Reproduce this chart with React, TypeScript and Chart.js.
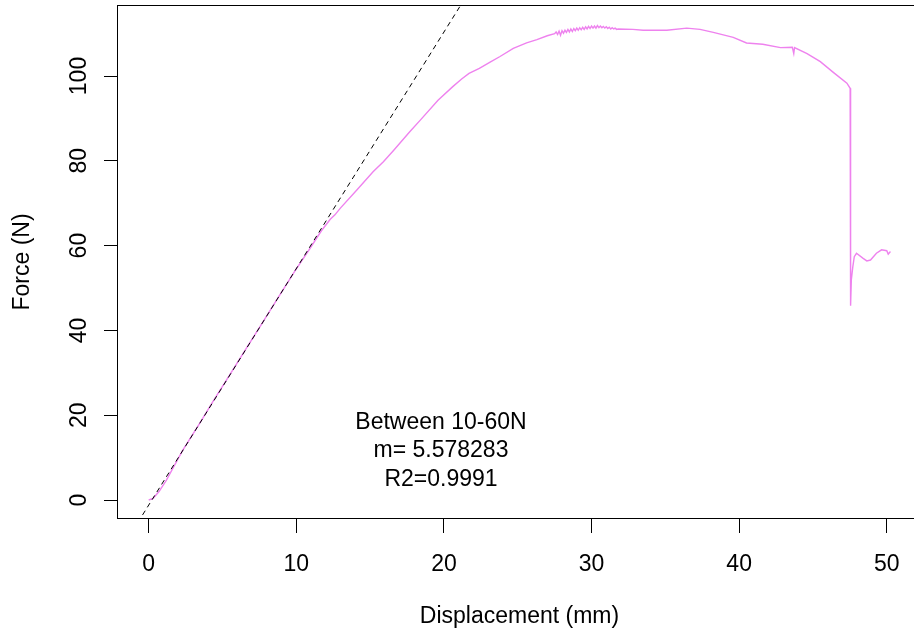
import React, { useEffect, useRef } from 'react';
import { Chart, registerables } from 'chart.js';

Chart.register(...registerables);

// ---- data ----
const displacement = [
  0.0, 0.3, 0.7, 1.2, 2.3, 3.4, 4.4, 5.5, 6.6, 7.7, 8.8, 9.9, 10.9, 11.7, 12.3, 12.6, 13.0,
  14.1, 15.2, 15.9, 16.6, 17.7, 18.4, 19.6, 20.6, 21.2, 21.7, 22.4, 23.1, 23.8, 24.7, 25.6, 26.3, 27.0,
  27.5, 27.6, 27.7, 27.8, 27.9, 28.0, 28.1, 28.2, 28.3, 28.4, 28.5, 28.6, 28.7, 28.8, 28.9,
  29.0, 29.1, 29.2, 29.3, 29.4, 29.5, 29.6, 29.7, 29.8, 29.9, 30.0, 30.1, 30.2, 30.3, 30.4,
  30.5, 30.6, 30.7, 30.8, 30.9, 31.0, 31.1, 31.2, 31.3, 31.4, 31.5, 31.6, 31.7, 31.8,
  32.8, 33.5, 35.1, 36.45, 37.35, 38.25, 39.6, 40.5, 41.6, 42.8, 43.6, 43.7, 43.75, 44.6,
  45.5, 46.4, 47.3, 47.52, 47.55, 47.6, 47.7, 47.8, 47.95, 48.4, 48.65, 48.9, 49.3, 49.65,
  50.0, 50.1, 50.25,
];
const force = [
  0.0, 0.4, 2.0, 4.7, 11.7, 17.8, 23.5, 29.6, 35.7, 41.8, 47.9, 54.0, 59.2, 63.5, 66.2, 67.2, 68.9,
  73.1, 77.4, 79.8, 82.5, 86.9, 89.6, 94.3, 97.5, 99.3, 100.6, 101.8, 103.2, 104.6, 106.5, 107.8, 108.6, 109.5,
  110.0, 110.4, 109.8, 110.6, 109.6, 110.7, 110.1, 110.8, 110.3, 111.0, 110.4, 111.1, 110.5, 111.2, 110.7,
  111.3, 110.8, 111.4, 110.9, 111.5, 111.0, 111.6, 111.1, 111.7, 111.2, 111.8, 111.3, 111.8, 111.3, 111.9,
  111.4, 111.8, 111.4, 111.7, 111.3, 111.6, 111.2, 111.5, 111.1, 111.4, 111.1, 111.3, 111.0, 111.1,
  111.0, 110.8, 110.8, 111.3, 111.0, 110.3, 109.1, 107.8, 107.5, 106.7, 106.8, 105.3, 106.7, 105.3,
  103.4, 100.8, 98.3, 97.1, 45.8, 51.9, 55.0, 57.4, 58.2, 57.0, 56.4, 56.6, 58.2, 59.0,
  58.8, 58.0, 58.6,
];

const xTickValues = [0, 10, 20, 30, 40, 50];
const yTickValues = [0, 20, 40, 60, 80, 100];

const fitSlope = 5.578283;
const fitIntercept = -1.2;
const fitXRange = [-3, 56];

const annotationLines = ['Between 10-60N', 'm= 5.578283', 'R2=0.9991'];
const annotationX = 19.8;
const annotationY = 11.6;

const xLabel = 'Displacement (mm)';
const yLabel = 'Force (N)';

const FONT = '"Liberation Sans", Arial, Helvetica, sans-serif';
const FONT_SIZE = 23;

export default function App() {
  const ref = useRef<HTMLCanvasElement>(null);

  useEffect(() => {
    const canvas = ref.current;
    if (!canvas) return;

    const rBoxPlugin = {
      id: 'rBox',
      afterDraw(chart: any) {
        const { ctx, chartArea } = chart;
        const { left, top, right, bottom } = chartArea;
        ctx.save();
        ctx.strokeStyle = '#000';
        ctx.lineWidth = 1;
        ctx.strokeRect(left - 0.5, top + 0.5, right - left, bottom - top - 1);

        const xs = chart.scales.x;
        const ys = chart.scales.y;
        const cx = xs.getPixelForValue(annotationX);
        const cy = ys.getPixelForValue(annotationY);
        const lh = 28.5;
        ctx.font = `${FONT_SIZE}px ${FONT}`;
        ctx.fillStyle = '#000';
        ctx.textAlign = 'center';
        ctx.textBaseline = 'middle';
        const n = annotationLines.length;
        annotationLines.forEach((t, i) => {
          ctx.fillText(t, cx, cy + (i - (n - 1) / 2) * lh);
        });
        ctx.restore();
      },
    };

    const font = { family: FONT, size: FONT_SIZE, lineHeight: 1 };

    const chart = new Chart(canvas, {
      type: 'line',
      data: {
        datasets: [
          {
            label: 'fit',
            data: fitXRange.map((x) => ({ x, y: fitSlope * x + fitIntercept })),
            borderColor: '#000',
            borderWidth: 1,
            borderDash: [5, 4],
            pointRadius: 0,
            fill: false,
            order: 0,
          },
          {
            label: 'force',
            data: displacement.map((x, i) => ({ x, y: force[i] })),
            borderColor: '#EE82EE',
            borderWidth: 1.4,
            pointRadius: 0,
            tension: 0,
            fill: false,
            order: 1,
          },
        ],
      },
      options: {
        responsive: false,
        animation: false,
        devicePixelRatio: 1,
        events: [],
        layout: { padding: { left: 0, top: 5, right: 9, bottom: 0 } },
        plugins: { legend: { display: false }, tooltip: { enabled: false } },
        scales: {
          x: {
            type: 'linear',
            position: 'bottom',
            min: -2.08,
            max: 52.32,
            afterBuildTicks: (s: any) => {
              s.ticks = xTickValues.map((v) => ({ value: v }));
            },
            afterFit: (s: any) => {
              s.height = 118;
              s.paddingLeft = 0;
              s.paddingRight = 0;
              s.paddingTop = 0;
              s.paddingBottom = 0;
            },
            grid: {
              display: true,
              drawOnChartArea: false,
              drawTicks: true,
              tickLength: 14,
              color: '#000',
              lineWidth: 1,
            },
            border: { display: false },
            ticks: {
              font,
              color: '#000',
              padding: 20,
              maxRotation: 0,
              minRotation: 0,
              autoSkip: false,
            },
            title: {
              display: true,
              text: xLabel,
              font,
              color: '#000',
              padding: { top: 0, bottom: 9 },
            },
          },
          y: {
            type: 'linear',
            position: 'left',
            min: -4.48,
            max: 116.75,
            afterBuildTicks: (s: any) => {
              s.ticks = yTickValues.map((v) => ({ value: v }));
            },
            afterFit: (s: any) => {
              s.width = 118;
              s.paddingLeft = 0;
              s.paddingRight = 0;
              s.paddingTop = 0;
              s.paddingBottom = 0;
            },
            grid: {
              display: true,
              drawOnChartArea: false,
              drawTicks: true,
              tickLength: 14,
              color: '#000',
              lineWidth: 1,
            },
            border: { display: false },
            ticks: {
              font,
              color: '#000',
              padding: 5,
              minRotation: 90,
              maxRotation: 90,
              crossAlign: 'center',
              autoSkip: false,
            },
            title: {
              display: true,
              text: yLabel,
              font,
              color: '#000',
              padding: { top: 11, bottom: 0 },
            },
          },
        },
      },
      plugins: [rBoxPlugin],
    } as any);

    return () => {
      chart.destroy();
    };
  }, []);

  return (
    <div
      style={{
        position: 'absolute',
        left: 0,
        top: 0,
        width: 914,
        height: 637,
        overflow: 'hidden',
        background: '#fff',
      }}
    >
      <canvas ref={ref} width={930} height={637} style={{ display: 'block' }} />
    </div>
  );
}
